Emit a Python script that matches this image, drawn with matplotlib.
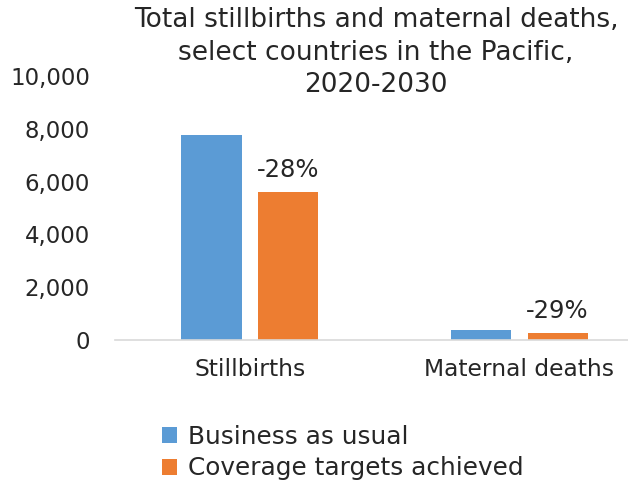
import numpy as np
import matplotlib
matplotlib.use('Agg')
import matplotlib.pyplot as plt
from matplotlib.ticker import FuncFormatter

plt.rcParams['font.family'] = ['DejaVu Sans']

# chart data
categories = ['Stillbirths', 'Maternal deaths']
business_as_usual = [7770, 390]
coverage_targets = [5600, 277]
change_labels = ['-28%', '-29%']
series_names = ['Business as usual', 'Coverage targets achieved']

blue = '#5B9BD5'
orange = '#ED7D31'
text_color = '#262626'

fig = plt.figure(figsize=(6.28, 4.83), dpi=100)
ax = fig.add_axes([115 / 628, 1 - 340 / 483, 1 - 115 / 628, (340 - 76) / 483])

x = np.arange(len(categories))
width = 0.223
gap = 0.061
b1 = ax.bar(x - (width + gap) / 2, business_as_usual, width, color=blue, label=series_names[0])
b2 = ax.bar(x + (width + gap) / 2, coverage_targets, width, color=orange, label=series_names[1])

# percentage change above the orange bars
for rect, lab in zip(b2, change_labels):
    ax.annotate(lab, (rect.get_x() + rect.get_width() / 2, rect.get_height()),
                xytext=(0, 7), textcoords='offset points', ha='center', va='bottom',
                fontsize=17.5, color=text_color)

ax.set_xlim(-0.5, 1.403)
ax.set_ylim(0, 10000)
ax.set_yticks(range(0, 10001, 2000))
ax.yaxis.set_major_formatter(FuncFormatter(lambda v, p: f'{int(v):,}'))
ax.set_xticks(x)
ax.set_xticklabels(categories, fontsize=16.8)

for s in ['top', 'right', 'left']:
    ax.spines[s].set_visible(False)
ax.spines['bottom'].set_color('#D9D9D9')
ax.spines['bottom'].set_linewidth(1.2)
ax.tick_params(axis='both', length=0, colors=text_color)
ax.tick_params(axis='y', pad=18, labelsize=16.5)
ax.tick_params(axis='x', pad=13)

fig.text(376 / 628, 1 - 7 / 483,
         'Total stillbirths and maternal deaths,\nselect countries in the Pacific,\n2020-2030',
         ha='center', va='top', fontsize=19, color=text_color, linespacing=1.33)

fig.legend(handles=[b1, b2], labels=series_names, loc='upper left',
           bbox_to_anchor=(162 / 628, 1 - 425 / 483), frameon=False, fontsize=17.8,
           handlelength=0.6, handleheight=0.6, handletextpad=0.45, labelspacing=0.3,
           labelcolor=text_color, borderaxespad=0, borderpad=0)

fig.savefig('out.png', dpi=100)
